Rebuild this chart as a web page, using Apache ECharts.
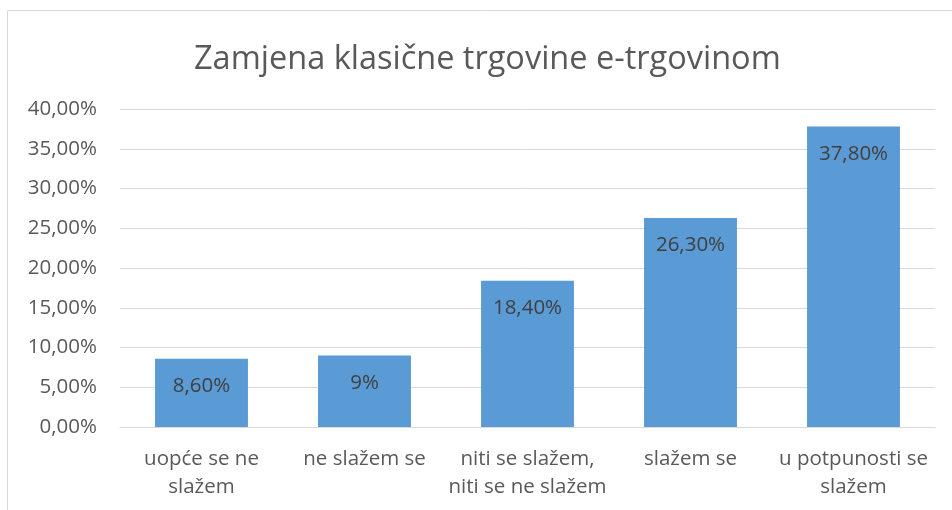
<!DOCTYPE html>
<html>
<head>
<meta charset="utf-8">
<script src="https://cdn.jsdelivr.net/npm/echarts@6/dist/echarts.min.js"></script>
<style>
html,body{margin:0;padding:0;background:#fff;}
#chart{width:952px;height:510px;}
</style>
</head>
<body>
<div id="chart"></div>
<script>
var titleText = 'Zamjena klasične trgovine e-trgovinom';
var categories = ['uopće se ne\nslažem', 'ne slažem se', 'niti se slažem,\nniti se ne slažem', 'slažem se', 'u potpunosti se\nslažem'];
var values = [8.6, 9, 18.4, 26.3, 37.8];
var valueLabels = ['8,60%', '9%', '18,40%', '26,30%', '37,80%'];
var yTicks = [0, 5, 10, 15, 20, 25, 30, 35, 40];

var FONT = '"Open Sans", sans-serif';
var chart = echarts.init(document.getElementById('chart'), null, {renderer: 'canvas'});
chart.setOption({
  animation: false,
  backgroundColor: '#ffffff',
  graphic: [{
    type: 'rect', z: -1, silent: true,
    shape: {x: 7.5, y: 10.5, width: 980, height: 540},
    style: {fill: 'none', stroke: '#d9d9d9', lineWidth: 1}
  }],
  title: {
    text: titleText,
    left: 189,
    top: 38,
    textStyle: {fontFamily: FONT, fontSize: 32.5, fontWeight: 'normal', color: '#595959'}
  },
  grid: {left: 120, right: 17, top: 109, bottom: 83, containLabel: false},
  xAxis: {
    type: 'category',
    data: categories,
    axisLine: {show: true, lineStyle: {color: '#d9d9d9', width: 1}},
    axisTick: {show: false},
    axisLabel: {interval: 0, margin: 18, fontFamily: FONT, fontSize: 20.5, color: '#595959', lineHeight: 28}
  },
  yAxis: {
    type: 'value',
    min: yTicks[0],
    max: yTicks[yTicks.length - 1],
    interval: 5,
    axisLine: {show: false},
    axisTick: {show: false},
    splitLine: {lineStyle: {color: '#d9d9d9', width: 1}},
    axisLabel: {
      margin: 23, fontFamily: FONT, fontSize: 20.5, color: '#595959',
      formatter: function (v) { return v.toFixed(2).replace('.', ',') + '%'; }
    }
  },
  series: [{
    type: 'bar',
    data: values,
    barCategoryGap: '43%',
    itemStyle: {color: '#5b9bd5'},
    label: {
      show: true,
      position: 'insideTop',
      distance: 17,
      fontFamily: FONT, fontSize: 20.5, color: '#404040',
      formatter: function (p) { return valueLabels[p.dataIndex]; }
    }
  }]
});
</script>
</body>
</html>
